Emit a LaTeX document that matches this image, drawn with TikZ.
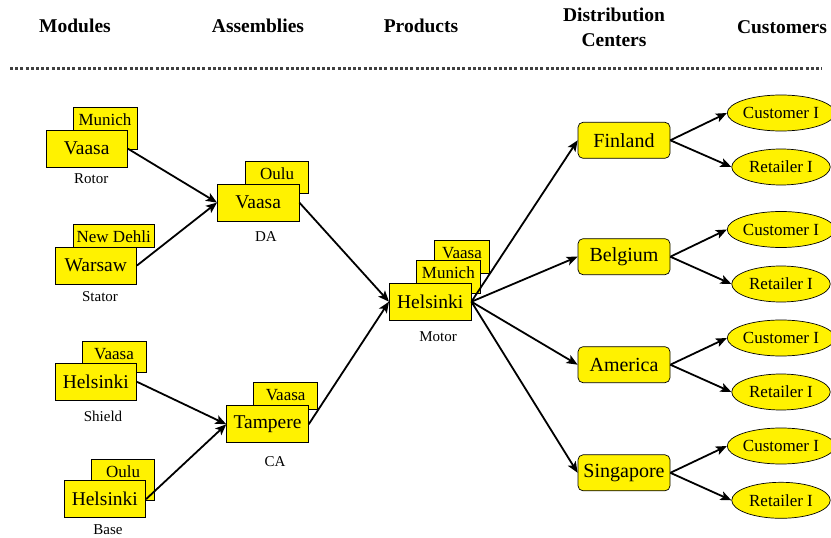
\documentclass[tikz,border=0pt]{standalone}
\usepackage{fontspec}
\setmainfont{Liberation Serif}
\usetikzlibrary{arrows.meta,shapes.geometric}

\begin{document}
\begin{tikzpicture}[x=1pt,y=-1pt,
  header/.style={anchor=base, align=center, font=\fontsize{19.5}{25}\selectfont\bfseries},
  site/.style={draw=black, line width=0.7pt, fill=yellow, inner sep=0pt,
    minimum width=81.7pt, minimum height=37pt, font=\fontsize{19.5}{20}\selectfont},
  altsite/.style 2 args={draw=black, line width=0.7pt, fill=yellow, inner sep=0pt,
    anchor=north west, minimum width=#1, text height=18pt, text depth=#2,
    font=\fontsize{17}{18}\selectfont},
  caption/.style={font=\fontsize{15}{16}\selectfont},
  centre/.style={draw=black, line width=0.7pt, fill=yellow, rounded corners=5pt, inner sep=0pt,
    minimum width=92pt, minimum height=36pt, font=\fontsize{20}{21}\selectfont},
  client/.style={ellipse, draw=black, line width=0.7pt, fill=yellow, inner sep=0pt,
    minimum width=98.5pt, minimum height=36pt, font=\fontsize{17}{18}\selectfont},
  flow/.style={-{Stealth[length=11pt,width=9pt,inset=2.5pt]}, line width=1.8pt}
]
\useasboundingbox (0,0) rectangle (831,538);

% column headers
\node[header] (hMod) at (75,32) {Modules};
\node[header] (hAsm) at (258,32) {Assemblies};
\node[header] (hPrd) at (421,32) {Products};
\node[header] (hDist) at (614,46.7) {Distribution\\Centers};
\node[header] (hCust) at (782,33) {Customers};

% separator
\coordinate (ruleL) at (10,68);
\coordinate (ruleR) at (822,68);
\draw[dash pattern=on 3pt off 2.2pt, line width=3pt, black!75] (ruleL) -- (ruleR);

% modules
\node[altsite={64pt}{24pt}] (rotorB) at (72.7,107) {Munich};
\node[site] (rotorF) at (86.7,148.7) {Vaasa};
\node[caption] (rotorL) at (91.3,178.5) {Rotor};

\node[altsite={81.3pt}{5pt}] (statorB) at (72.7,224) {New Dehli};
\node[site] (statorF) at (95.8,265.5) {Warsaw};
\node[caption] (statorL) at (100,296.5) {Stator};

\node[altsite={64pt}{13pt}] (shieldB) at (81.7,341) {Vaasa};
\node[site] (shieldF) at (95.8,381.8) {Helsinki};
\node[caption] (shieldL) at (103,416) {Shield};

\node[altsite={63.3pt}{23pt}] (baseB) at (91,459) {Oulu};
\node[site] (baseF) at (104.8,499.2) {Helsinki};
\node[caption] (baseL) at (108,529.5) {Base};

% assemblies
\node[altsite={63.3pt}{14pt}] (daB) at (245,161) {Oulu};
\node[site] (daF) at (258.2,202.6) {Vaasa};
\node[caption] (daL) at (266,237) {DA};

\node[altsite={64pt}{9pt}] (caB) at (253.3,382.3) {Vaasa};
\node[site] (caF) at (267.5,424.3) {Tampere};
\node[caption] (caL) at (275,462) {CA};

% product
\node[altsite={54.7pt}{15pt}] (motorB2) at (434.3,240) {Vaasa};
\node[altsite={64pt}{15pt}] (motorB1) at (416,260) {Munich};
\node[site] (motorF) at (430.2,301.7) {Helsinki};
\node[caption] (motorL) at (438,337) {Motor};

% distribution centres
\node[centre] (fin) at (624,140.3) {Finland};
\node[centre] (bel) at (624,256.7) {Belgium};
\node[centre] (ame) at (624,364.7) {America};
\node[centre] (sin) at (624,472.8) {Singapore};

% customers
\node[client] (finC) at (781,113) {Customer I};
\node[client] (finR) at (781,167) {Retailer I};
\node[client] (belC) at (781,229.5) {Customer I};
\node[client] (belR) at (781,284) {Retailer I};
\node[client] (ameC) at (781,338) {Customer I};
\node[client] (ameR) at (781,392) {Retailer I};
\node[client] (sinC) at (781,446) {Customer I};
\node[client] (sinR) at (781,500.3) {Retailer I};

% supply flows
\draw[flow] (rotorF.east) -- (daF.west);
\draw[flow] (statorF.east) -- (daF.west);
\draw[flow] (shieldF.east) -- (caF.west);
\draw[flow] (baseF.east) -- (caF.west);
\draw[flow] (daF.east) -- (motorF.west);
\draw[flow] (caF.east) -- (motorF.west);
\foreach \d in {fin,bel,ame,sin}{
  \draw[flow] (motorF.east) -- (\d.west);
  \draw[flow] (\d.east) -- (\d C.west);
  \draw[flow] (\d.east) -- (\d R.west);
}
\end{tikzpicture}
\end{document}
